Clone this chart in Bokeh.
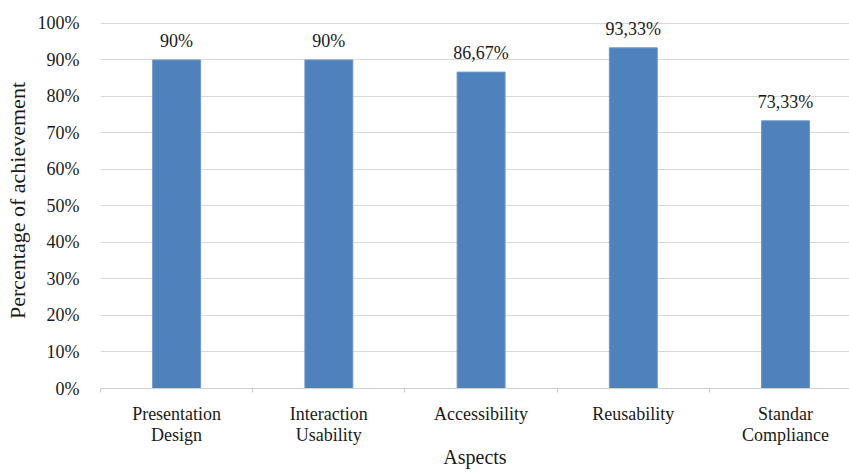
from bokeh.plotting import figure
from bokeh.models import (ColumnDataSource, PrintfTickFormatter, FixedTicker, Range1d, LinearAxis)
from bokeh.core.properties import value
from bokeh.embed import file_html
from bokeh.resources import INLINE

categories = ["Presentation Design", "Interaction Usability", "Accessibility", "Reusability", "Standar Compliance"]
label_line1 = ["Presentation", "Interaction", "Accessibility", "Reusability", "Standar"]
label_line2 = ["Design", "Usability", "", "", "Compliance"]
values = [90, 90, 86.67, 93.33, 73.33]
value_labels = [(f"{v:g}").replace(".", ",") + "%" for v in values]
y_ticks = list(range(0, 101, 10))

FONT = "Liberation Serif"
TXT = "#1a1a1a"

xpos = [i + 0.5 for i in range(len(categories))]
bounds = list(range(len(categories) + 1))
src = ColumnDataSource(dict(x=xpos, cat=categories, val=values, lab=value_labels))

p = figure(x_range=Range1d(0, 4.92), y_range=Range1d(0, 103), width=849, height=472,
           output_backend="svg", toolbar_location=None,
           min_border_left=100, min_border_right=0, min_border_top=12, min_border_bottom=84)
p.outline_line_color = None
p.background_fill_color = "white"
p.border_fill_color = "white"

p.vbar(x="x", top="val", width=0.315, source=src, fill_color="#4f81bd", line_color="#6f97cc", line_width=1)
p.text(x="x", y="val", text="lab", source=src, text_align="center", text_baseline="bottom",
       y_offset=-9, text_font_size="18px", text_color=TXT, text_font=value(FONT))

# y axis
p.yaxis.ticker = FixedTicker(ticks=y_ticks)
p.yaxis.formatter = PrintfTickFormatter(format="%d%%")
p.yaxis.axis_line_color = None
p.yaxis.major_tick_line_color = None
p.yaxis.minor_tick_line_color = None
p.yaxis.major_label_standoff = 15
p.yaxis.major_label_text_font = FONT
p.yaxis.major_label_text_font_size = "18px"
p.yaxis.major_label_text_color = TXT
p.yaxis.axis_label = "Percentage of achievement"
p.yaxis.axis_label_text_font = FONT
p.yaxis.axis_label_text_font_size = "22px"
p.yaxis.axis_label_text_font_style = "normal"
p.yaxis.axis_label_text_color = TXT
p.yaxis.axis_label_standoff = 5

# x axis (first line of category names, boundary ticks as minor ticks)
xa = p.xaxis[0]
xa.ticker = FixedTicker(ticks=xpos, minor_ticks=bounds)
xa.major_label_overrides = {x: t for x, t in zip(xpos, label_line1)}
xa.axis_line_color = "#d0d0d0"
xa.major_tick_line_color = None
xa.minor_tick_line_color = "#c8c8c8"
xa.minor_tick_in = 0
xa.minor_tick_out = 4
xa.major_label_standoff = 9
xa.major_label_text_font = FONT
xa.major_label_text_font_size = "18px"
xa.major_label_text_color = TXT

# second axis: second line of category names + axis title
xb = LinearAxis(ticker=FixedTicker(ticks=xpos),
                major_label_overrides={x: t for x, t in zip(xpos, label_line2)})
xb.axis_line_color = None
xb.major_tick_line_color = None
xb.minor_tick_line_color = None
xb.major_label_standoff = -8
xb.major_label_text_font = FONT
xb.major_label_text_font_size = "18px"
xb.major_label_text_color = TXT
xb.axis_label = "Aspects"
xb.axis_label_text_font = FONT
xb.axis_label_text_font_size = "20px"
xb.axis_label_text_font_style = "normal"
xb.axis_label_text_color = TXT
xb.axis_label_standoff = -2
p.add_layout(xb, "below")

p.xgrid.grid_line_color = None
p.ygrid.ticker = FixedTicker(ticks=y_ticks)
p.ygrid.grid_line_color = "#d9d9d9"
p.ygrid.grid_line_width = 1

open("out.html", "w").write(file_html(p, INLINE))
